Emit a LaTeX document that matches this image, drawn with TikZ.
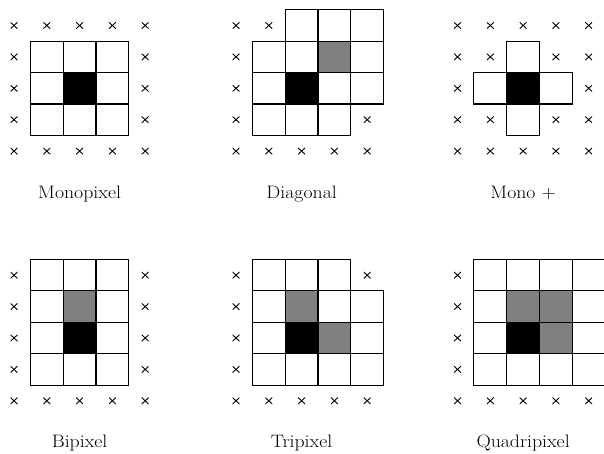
\documentclass[tikz,border=0pt]{standalone}
\definecolor{midgray}{RGB}{128,128,128}
\tikzset{
  cellbox/.style={draw=black, line width=1.1pt, minimum width=32.8pt, minimum height=31.4pt, inner sep=0pt, outer sep=0pt, fill=white},
  blackbox/.style={cellbox, fill=black},
  graybox/.style={cellbox, fill=midgray},
  crossmark/.style={inner sep=0pt, minimum width=7pt, minimum height=6.5pt,
    path picture={\draw[line width=0.9pt] (path picture bounding box.north west) -- (path picture bounding box.south east)
      (path picture bounding box.south west) -- (path picture bounding box.north east);}},
  panellabel/.style={anchor=base, inner sep=0pt, xscale=1.1, transform shape, font=\fontsize{18}{20}\selectfont},
}
\newcommand\pcells[5]{%
  \foreach \c/\r in {#5} \node[#1] (#2-\c-\r) at ({#3+14+32.8*\c},{#4+25.5+31.4*\r}) {};}
\newcommand\pcross[4]{%
  \foreach \c/\r in {#4} \node[crossmark] (#1-x-\c-\r) at ({#2+14+32.8*\c},{#3+25.5+31.4*\r}) {};}
\begin{document}
\begin{tikzpicture}[x=1pt,y=-1pt]
\useasboundingbox (0,0) rectangle (604,453);
% Panel 1: Monopixel
\pcells{cellbox}{pa}{0}{0}{1/1,2/1,3/1,1/2,3/2,1/3,2/3,3/3}
\pcells{blackbox}{pa}{0}{0}{2/2}
\pcross{pa}{0}{0}{0/0,1/0,2/0,3/0,4/0,0/1,4/1,0/2,4/2,0/3,4/3,0/4,1/4,2/4,3/4,4/4}
\node[panellabel] (la) at (79.6,198) {Monopixel};
% Panel 2: Diagonal
\pcells{cellbox}{pb}{222}{0}{2/0,3/0,4/0,1/1,2/1,4/1,1/2,3/2,4/2,1/3,2/3,3/3}
\pcells{graybox}{pb}{222}{0}{3/1}
\pcells{blackbox}{pb}{222}{0}{2/2}
\pcross{pb}{222}{0}{0/0,1/0,0/1,0/2,0/3,4/3,0/4,1/4,2/4,3/4,4/4}
\node[panellabel] (lb) at (301.6,198) {Diagonal};
% Panel 3: Mono +
\pcells{cellbox}{pc}{443.5}{0}{2/1,1/2,3/2,2/3}
\pcells{blackbox}{pc}{443.5}{0}{2/2}
\pcross{pc}{443.5}{0}{0/0,1/0,2/0,3/0,4/0,0/1,1/1,3/1,4/1,0/2,4/2,0/3,1/3,3/3,4/3,0/4,1/4,2/4,3/4,4/4}
\node[panellabel] (lc) at (523.1,198) {Mono +};
% Panel 4: Bipixel
\pcells{cellbox}{pd}{0}{249.7}{1/0,2/0,3/0,1/1,3/1,1/2,3/2,1/3,2/3,3/3}
\pcells{graybox}{pd}{0}{249.7}{2/1}
\pcells{blackbox}{pd}{0}{249.7}{2/2}
\pcross{pd}{0}{249.7}{0/0,4/0,0/1,4/1,0/2,4/2,0/3,4/3,0/4,1/4,2/4,3/4,4/4}
\node[panellabel] (ld) at (79.6,447.7) {Bipixel};
% Panel 5: Tripixel
\pcells{cellbox}{pe}{222}{249.7}{1/0,2/0,3/0,1/1,3/1,4/1,1/2,4/2,1/3,2/3,3/3,4/3}
\pcells{graybox}{pe}{222}{249.7}{2/1,3/2}
\pcells{blackbox}{pe}{222}{249.7}{2/2}
\pcross{pe}{222}{249.7}{0/0,4/0,0/1,0/2,0/3,0/4,1/4,2/4,3/4,4/4}
\node[panellabel] (le) at (301.6,447.7) {Tripixel};
% Panel 6: Quadripixel
\pcells{cellbox}{pf}{443.5}{249.7}{1/0,2/0,3/0,4/0,1/1,4/1,1/2,4/2,1/3,2/3,3/3,4/3}
\pcells{graybox}{pf}{443.5}{249.7}{2/1,3/1,3/2}
\pcells{blackbox}{pf}{443.5}{249.7}{2/2}
\pcross{pf}{443.5}{249.7}{0/0,0/1,0/2,0/3,0/4,1/4,2/4,3/4,4/4}
\node[panellabel] (lf) at (523.1,447.7) {Quadripixel};
\end{tikzpicture}
\end{document}
